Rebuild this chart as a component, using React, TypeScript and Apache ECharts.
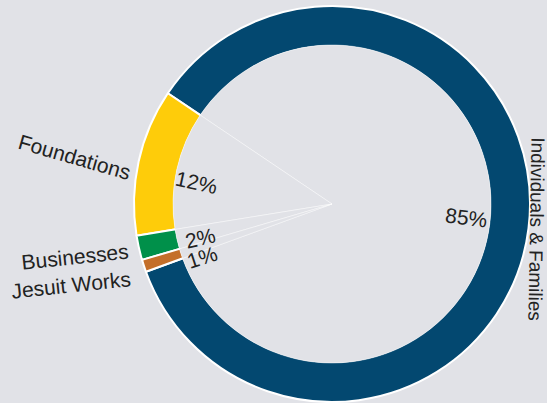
import React, { useEffect, useRef } from "react";
import * as echarts from "echarts";

const categories = ["Individuals & Families", "Foundations", "Businesses", "Jesuit Works"];
const shares = [85, 12, 2, 1];
const colors = ["#034870", "#fecc0a", "#00904a", "#c46f2a"];
const nameRotations = [-91, -16, 6, 6];
// small label nudges (px) to follow the reference placement
const percentNudge = [[-3, -3], [1, 8], [2, 4], [-2, 10]];
const nameNudge = [[0, 0], [5, 9], [3, -6], [-8, -3]];

const BG = "#e1e2e7";
const FONT = "'Liberation Sans', Arial, sans-serif";
const CENTER = [332, 204];
const START = 200;

export default function App() {
  const ref = useRef<HTMLDivElement>(null);
  useEffect(() => {
    if (!ref.current) return;
    const chart = echarts.init(ref.current, null, { renderer: "svg" });
    const base = {
      type: "pie",
      center: CENTER,
      startAngle: START,
      clockwise: false,
      silent: true,
      animation: false,
      avoidLabelOverlap: false,
      emphasis: { disabled: true, scale: false },
      labelLine: { show: false },
    };
    const ring = categories.map((name, i) => ({
      name,
      value: shares[i],
      itemStyle: { color: colors[i] },
    }));
    const plain = categories.map((name, i) => ({ name, value: shares[i] }));
    const textStyle = { color: "#222222", fontSize: 21, fontFamily: FONT };

    const percentSeries = categories.map((_, k) => ({
      ...base,
      radius: [112, 158],
      itemStyle: { color: "rgba(0,0,0,0)" },
      label: {
        show: true,
        position: "inside",
        rotate: "radial",
        formatter: "{c}%",
        ...textStyle,
      },
      labelLayout: (p: any) =>
        p.dataIndex === k ? { dx: percentNudge[k][0], dy: percentNudge[k][1] } : {},
      data: plain.map((d, i) => ({ ...d, label: { show: i === k } })),
    }));

    const nameSeries = categories.map((_, k) => ({
      ...base,
      radius: k === 0 ? [194, 212] : [240, 286],
      itemStyle: { color: "rgba(0,0,0,0)" },
      label: {
        show: true,
        position: "inside",
        formatter: "{b}",
        ...textStyle,
        fontSize: k === 0 ? 19 : 21,
      },
      labelLayout: (p: any) =>
        p.dataIndex === k ? { dx: nameNudge[k][0], dy: nameNudge[k][1] } : {},
      data: plain.map((d, i) => ({
        ...d,
        label: { show: i === k, rotate: nameRotations[i] },
      })),
    }));

    chart.setOption({
      animation: false,
      backgroundColor: BG,
      series: [
        {
          ...base,
          radius: [158, 198],
          itemStyle: { borderColor: "#ffffff", borderWidth: 2 },
          label: { show: false },
          data: ring,
        },
        {
          ...base,
          radius: [0, 159],
          itemStyle: { color: BG, borderColor: "rgba(255,255,255,0.45)", borderWidth: 1 },
          label: { show: false },
          data: plain,
        },
        ...percentSeries,
        ...nameSeries,
      ],
    });
    return () => chart.dispose();
  }, []);
  return (
    <div
      ref={ref}
      style={{ position: "fixed", left: 0, top: 0, width: 547, height: 403 }}
    />
  );
}
